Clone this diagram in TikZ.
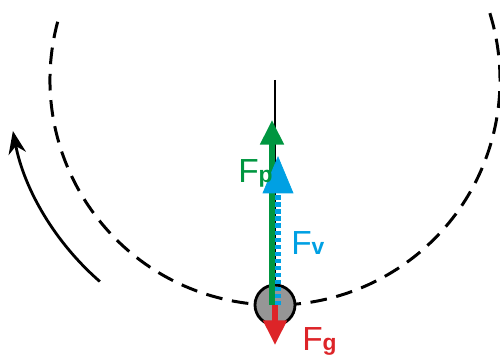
\documentclass[tikz,border=0pt]{standalone}
\usepackage{fontspec}
\setmainfont{Liberation Sans}
\usetikzlibrary{arrows.meta,calc}
\definecolor{fgreen}{RGB}{0,150,64}
\definecolor{fblue}{RGB}{0,160,227}
\definecolor{fred}{RGB}{221,36,40}
\definecolor{ballgray}{RGB}{150,150,150}
\tikzset{
  orbit/.style={dash pattern=on 9.5pt off 5.5pt,line width=1.7pt},
  force/.style={line width=3pt},
  lbl/.style={font=\fontsize{19}{19}\selectfont,inner sep=0pt},
}
\newcommand{\fsub}[1]{{\fontsize{13}{13}\selectfont\bfseries #1}}
\begin{document}
\begin{tikzpicture}[x=0.02cm, y=0.02cm]
  \useasboundingbox (0,0) rectangle (500,358);
  % the circular path and the sense of motion
  \coordinate (o) at (275,278);
  \draw[orbit] (o) ++(165:225) arc[start angle=165, end angle=378, radius=225];
  \draw[line width=1.6pt, -{Stealth[length=13pt,width=10pt]}]
       (o) ++(229:267) arc[start angle=229, end angle=191, radius=267];
  % string and ball
  \coordinate (ball) at (275,53);
  \draw[line width=1.6pt] (o) -- (ball);
  \node[circle, draw, line width=1.6pt, fill=ballgray, minimum size=0.8cm,
        inner sep=0pt] (m) at (ball) {};
  % forces
  \draw[force, fgreen, -{Triangle[length=14pt,width=13pt]}]
       ($(m.center)+(-3,0)$) -- (272,238);
  \draw[force, fblue, dash pattern=on 2.4pt off 1.6pt]
       ($(m.center)+(3,0)$) -- (278,168);
  \draw[fblue, fill=fblue] (278,201) -- (263,165) -- (293,165) -- cycle;
  \draw[force, fred, -{Triangle[length=14pt,width=13pt]}]
       (m.center) -- (275,13);
  \node[lbl, fgreen, anchor=base west] (fp) at (238,175) {F\fsub{p}};
  \node[lbl, fblue, anchor=base west] (fv) at (291,103) {F\fsub{v}};
  \node[lbl, fred, anchor=base west] (fg) at (302,8) {F\fsub{g}};
\end{tikzpicture}
\end{document}
